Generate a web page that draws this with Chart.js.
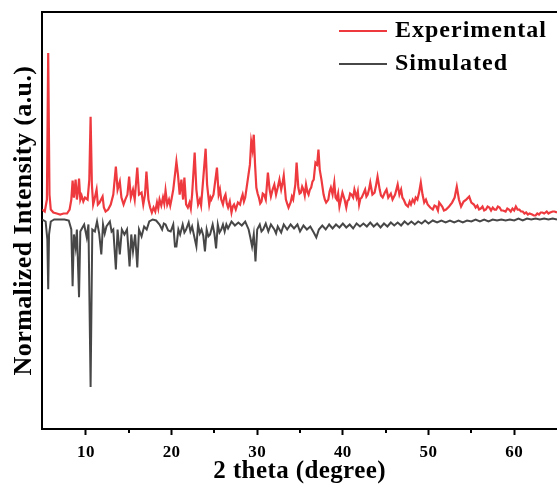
<!DOCTYPE html>
<html>
<head>
<meta charset="utf-8">
<script src="https://cdn.jsdelivr.net/npm/chart.js@4.4.1/dist/chart.umd.min.js"></script>
<style>
  html, body { margin: 0; padding: 0; background: #fff; }
  #wrap { width: 557px; height: 489px; position: relative; }
</style>
</head>
<body>
<div id="wrap"><canvas id="xrdChart"></canvas></div>
<script>
// 2 theta (degree) / normalized intensity (a.u.)
const expTheta = [
  4.9, 5.2, 5.45, 5.6, 5.75, 5.9, 6.2, 6.6, 7.0, 7.4, 7.8, 8.1, 8.3, 8.45, 8.6, 8.8, 8.95, 9.1, 9.2, 9.35,
  9.5, 9.7, 9.9, 10.2, 10.4, 10.55, 10.7, 10.85, 11.0, 11.25, 11.4, 11.6, 11.95, 12.1, 12.3, 12.6, 12.9, 13.2, 13.5, 13.7,
  13.96, 14.15, 14.4, 14.6, 14.85, 15.05, 15.25, 15.5, 15.7, 16.0, 16.2, 16.5, 16.7, 16.9, 17.07, 17.3, 17.5, 17.7, 17.9, 18.1,
  18.3, 18.45, 18.6, 18.8, 19.0, 19.15, 19.3, 19.5, 19.7, 19.85, 19.99, 20.2, 20.4, 20.57, 20.75, 20.95, 21.15, 21.35, 21.5, 21.7,
  21.9, 22.1, 22.25, 22.4, 22.7, 22.9, 23.1, 23.3, 23.45, 23.6, 23.98, 24.15, 24.4, 24.55, 24.65, 24.9, 25.3, 25.5, 25.65, 25.8,
  26.0, 26.15, 26.3, 26.45, 26.6, 26.8, 27.0, 27.15, 27.3, 27.5, 27.75, 28.0, 28.15, 28.3, 28.45, 28.6, 28.9, 29.15, 29.3, 29.45,
  29.6, 29.75, 29.9, 30.05, 30.2, 30.35, 30.5, 30.65, 30.8, 31.0, 31.25, 31.45, 31.6, 31.8, 32.0, 32.2, 32.4, 32.6, 32.8, 32.95,
  33.1, 33.35, 33.5, 33.66, 33.9, 34.05, 34.2, 34.45, 34.6, 34.8, 34.95, 35.1, 35.25, 35.4, 35.55, 35.7, 35.85, 36.0, 36.15, 36.3,
  36.45, 36.6, 36.8, 37.0, 37.15, 37.3, 37.5, 37.75, 37.9, 38.05, 38.3, 38.45, 38.6, 38.8, 39.0, 39.15, 39.3, 39.45, 39.6, 39.8,
  39.95, 40.2, 40.4, 40.55, 40.7, 40.85, 41.0, 41.2, 41.35, 41.6, 41.75, 41.9, 42.05, 42.2, 42.4, 42.6, 42.75, 42.9, 43.05, 43.2,
  43.45, 43.7, 43.85, 44.05, 44.3, 44.45, 44.65, 44.9, 45.1, 45.3, 45.45, 45.6, 45.8, 46.1, 46.25, 46.4, 46.6, 46.8, 46.95, 47.1,
  47.35, 47.6, 47.8, 47.95, 48.15, 48.35, 48.5, 48.7, 48.9, 49.1, 49.3, 49.5, 49.7, 49.9, 50.2, 50.5, 50.7, 50.9, 51.1, 51.25,
  51.6, 51.8, 52.05, 52.4, 52.75, 53.05, 53.3, 53.55, 53.8, 54.1, 54.4, 54.75, 55.0, 55.3, 55.5, 55.7, 55.9, 56.1, 56.3, 56.5,
  56.7, 56.9, 57.1, 57.3, 57.5, 57.7, 57.9, 58.1, 58.3, 58.5, 58.7, 59.0, 59.2, 59.4, 59.6, 59.8, 60.0, 60.2, 60.4, 60.6,
  60.8, 61.0, 61.2, 61.4, 61.6, 61.8, 62.1, 62.3, 62.5, 62.7, 62.9, 63.1, 63.3, 63.5, 63.8, 64.0, 64.2, 64.5, 64.7, 65.0
];
const expIntensity = [
  220, 218, 230, 377, 235, 220, 217, 216, 215, 216, 216, 220, 230, 249, 232, 250, 230, 240, 251, 230,
  234, 228, 232, 230, 250, 313, 245, 225, 230, 240, 225, 227, 233, 222, 218, 220, 225, 235, 263, 240,
  248, 232, 225, 230, 235, 253, 232, 240, 230, 262, 235, 237, 225, 235, 258, 230, 222, 217, 222, 218,
  227, 221, 230, 224, 232, 226, 239, 225, 230, 224, 230, 240, 255, 268, 255, 235, 250, 230, 252, 225,
  222, 227, 221, 235, 277, 240, 225, 230, 224, 240, 281, 245, 225, 232, 230, 235, 262, 235, 240, 230,
  225, 232, 235, 226, 222, 228, 217, 223, 225, 220, 227, 225, 231, 235, 228, 232, 250, 265, 288, 280,
  295, 265, 242, 236, 232, 226, 228, 236, 235, 230, 257, 240, 233, 240, 245, 235, 242, 250, 240, 246,
  254, 230, 226, 222, 227, 233, 230, 245, 267, 242, 236, 237, 243, 240, 234, 245, 238, 235, 240, 242,
  248, 250, 267, 265, 280, 260, 250, 235, 230, 227, 230, 238, 242, 235, 247, 232, 230, 236, 223, 231,
  237, 230, 222, 229, 230, 236, 235, 232, 240, 232, 238, 225, 231, 232, 236, 240, 233, 235, 240, 247,
  235, 237, 243, 253, 240, 234, 232, 237, 240, 232, 234, 236, 230, 235, 240, 245, 235, 240, 232, 230,
  225, 223, 228, 225, 230, 227, 232, 230, 237, 247, 235, 227, 230, 225, 222, 220, 224, 223, 219, 227,
  223, 219, 220, 223, 227, 232, 243, 230, 223, 228, 230, 233, 227, 225, 222, 224, 220, 221, 223, 219,
  220, 223, 222, 219, 222, 220, 220, 223, 222, 219, 219, 218, 221, 220, 218, 221, 219, 223, 220, 220,
  218, 218, 216, 217, 215, 216, 215, 214, 214, 216, 215, 217, 217, 216, 218, 216, 217, 218, 218, 217
];

const simTheta = [
  4.9, 5.3, 5.5, 5.6, 5.7, 5.9, 6.3, 7.5, 8.0, 8.3, 8.45, 8.6, 8.8, 8.95, 9.2, 9.35, 9.6, 9.8, 10.1, 10.3,
  10.55, 10.75, 11.05, 11.3, 11.55, 11.8, 12.0, 12.2, 12.4, 12.8, 13.0, 13.2, 13.5, 13.7, 13.96, 14.2, 14.5, 14.8, 15.1, 15.3,
  15.5, 15.75, 16.0, 16.2, 16.5, 16.8, 17.1, 17.4, 17.8, 18.2, 18.6, 18.9, 19.1, 19.3, 19.6, 19.9, 20.2, 20.4, 20.57, 20.8,
  21.0, 21.3, 21.5, 21.7, 22.0, 22.2, 22.4, 22.9, 23.1, 23.3, 23.5, 23.7, 23.9, 24.1, 24.3, 24.5, 24.8, 25.0, 25.2, 25.4,
  25.6, 25.8, 26.0, 26.2, 26.4, 26.6, 27.0, 27.4, 27.8, 28.2, 28.6, 29.0, 29.2, 29.4, 29.6, 29.8, 30.0, 30.3, 30.5, 30.7,
  31.0, 31.3, 31.6, 32.0, 32.2, 32.4, 32.8, 33.1, 33.5, 33.9, 34.3, 34.7, 35.0, 35.4, 35.8, 36.2, 36.6, 36.9, 37.2, 37.6,
  38.0, 38.4, 38.8, 39.2, 39.6, 40.0, 40.4, 40.8, 41.2, 41.6, 42.0, 42.4, 42.8, 43.2, 43.6, 44.0, 44.4, 44.8, 45.2, 45.6,
  46.0, 46.4, 46.8, 47.2, 47.6, 48.0, 48.4, 48.8, 49.2, 49.6, 50.0, 50.5, 51.0, 51.5, 52.0, 52.5, 53.0, 53.5, 54.0, 54.5,
  55.0, 55.5, 56.0, 56.5, 57.0, 57.5, 58.0, 58.5, 59.0, 59.5, 60.0, 60.5, 61.0, 61.5, 62.0, 62.5, 63.0, 63.5, 64.0, 64.5,
  65.0
];
const simIntensity = [
  210, 208, 190, 140, 195, 208, 210, 210, 209, 200, 143, 195, 182, 200, 132, 198, 202, 205, 192, 205,
  42, 200, 198, 208, 196, 175, 205, 196, 203, 208, 198, 200, 160, 200, 175, 200, 195, 200, 163, 195,
  178, 195, 162, 200, 193, 203, 200, 208, 210, 209, 205, 200, 206, 205, 199, 198, 205, 183, 183, 200,
  195, 205, 197, 200, 207, 198, 203, 183, 205, 196, 200, 194, 178, 200, 193, 195, 205, 196, 181, 205,
  197, 200, 205, 198, 205, 201, 208, 204, 207, 204, 208, 200, 192, 183, 195, 168, 200, 205, 198, 200,
  206, 198, 205, 200, 196, 203, 197, 205, 200, 205, 201, 205, 198, 204, 200, 203, 197, 192, 200, 204,
  200, 205, 201, 205, 202, 206, 202, 205, 201, 206, 203, 206, 203, 207, 203, 206, 202, 206, 203, 207,
  204, 207, 204, 208, 205, 208, 205, 208, 206, 209, 206, 209, 207, 209, 207, 209, 207, 209, 207, 209,
  208, 210, 208, 210, 208, 210, 209, 210, 209, 210, 209, 211, 209, 211, 210, 211, 210, 211, 210, 211,
  210
];

const seriesNames = ["Experimental", "Simulated"];
const tickValues = [10, 20, 30, 40, 50, 60];
const minorTickValues = [15, 25, 35, 45, 55];

const serif = "'Liberation Serif', 'Times New Roman', serif";

const toPoints = (xs, ys) => xs.map((v, i) => ({ x: v, y: ys[i] }));

// frame top line, minor ticks and the legend in the upper right
const extras = {
    id: "extras",
    beforeDraw(chart) {
        chart.ctx.letterSpacing = "0.4px";
    },
    afterDraw(chart) {
        const { ctx, chartArea: a } = chart;
        const xs = chart.scales.x;
        ctx.save();
        ctx.strokeStyle = "#000";
        ctx.lineWidth = 2;
        ctx.beginPath();
        ctx.moveTo(a.left - 1, a.top);
        ctx.lineTo(a.right, a.top);
        minorTickValues.forEach(v => {
            const px = Math.round(xs.getPixelForValue(v));
            ctx.moveTo(px, a.bottom);
            ctx.lineTo(px, a.bottom + 4);
        });
        ctx.stroke();

        ctx.font = "bold 24px " + serif;
        ctx.letterSpacing = "1px";
        ctx.textBaseline = "middle";
        ctx.fillStyle = "#000";
        chart.data.datasets.forEach((ds, i) => {
            const y = 31 + i * 33;
            ctx.strokeStyle = ds.borderColor;
            ctx.lineWidth = 2;
            ctx.beginPath();
            ctx.moveTo(339, y);
            ctx.lineTo(387, y);
            ctx.stroke();
            ctx.fillText(ds.label, 395, y);
        });
        ctx.restore();
    }
};

new Chart(document.getElementById("xrdChart"), {
    type: "line",
    data: {
        datasets: [
            {
                label: seriesNames[0],
                data: toPoints(expTheta, expIntensity),
                borderColor: "#ee3a3f",
                borderWidth: 2.2,
                pointRadius: 0,
                tension: 0
            },
            {
                label: seriesNames[1],
                data: toPoints(simTheta, simIntensity),
                borderColor: "#474747",
                borderWidth: 2,
                pointRadius: 0,
                tension: 0
            }
        ]
    },
    options: {
        responsive: true,
        maintainAspectRatio: false,
        animation: false,
        layout: { padding: { top: 12, right: 0, bottom: 0, left: 0 } },
        plugins: {
            legend: { display: false },
            tooltip: { enabled: false }
        },
        scales: {
            x: {
                type: "linear",
                min: 4.9,
                max: 65,
                afterBuildTicks: s => { s.ticks = tickValues.map(v => ({ value: v })); },
                ticks: {
                    color: "#000",
                    padding: 9,
                    maxRotation: 0,
                    font: { family: serif, size: 17, weight: "bold", lineHeight: 1 }
                },
                grid: {
                    drawOnChartArea: false,
                    tickLength: 6,
                    tickWidth: 2,
                    tickColor: "#000"
                },
                border: { color: "#000", width: 2 },
                title: {
                    display: true,
                    text: "2 theta (degree)",
                    color: "#000",
                    padding: { top: -11, bottom: 5 },
                    font: { family: serif, size: 25, weight: "bold", lineHeight: 1 }
                }
            },
            y: {
                min: 0,
                max: 418,
                ticks: { display: false },
                grid: { display: false, drawTicks: false },
                border: { color: "#000", width: 2 },
                title: {
                    display: true,
                    text: "Normalized Intensity (a.u.)",
                    color: "#000",
                    padding: { top: 9, bottom: 2 },
                    font: { family: serif, size: 26, weight: "bold", lineHeight: 1.2 }
                }
            }
        }
    },
    plugins: [extras]
});
</script>
</body>
</html>
